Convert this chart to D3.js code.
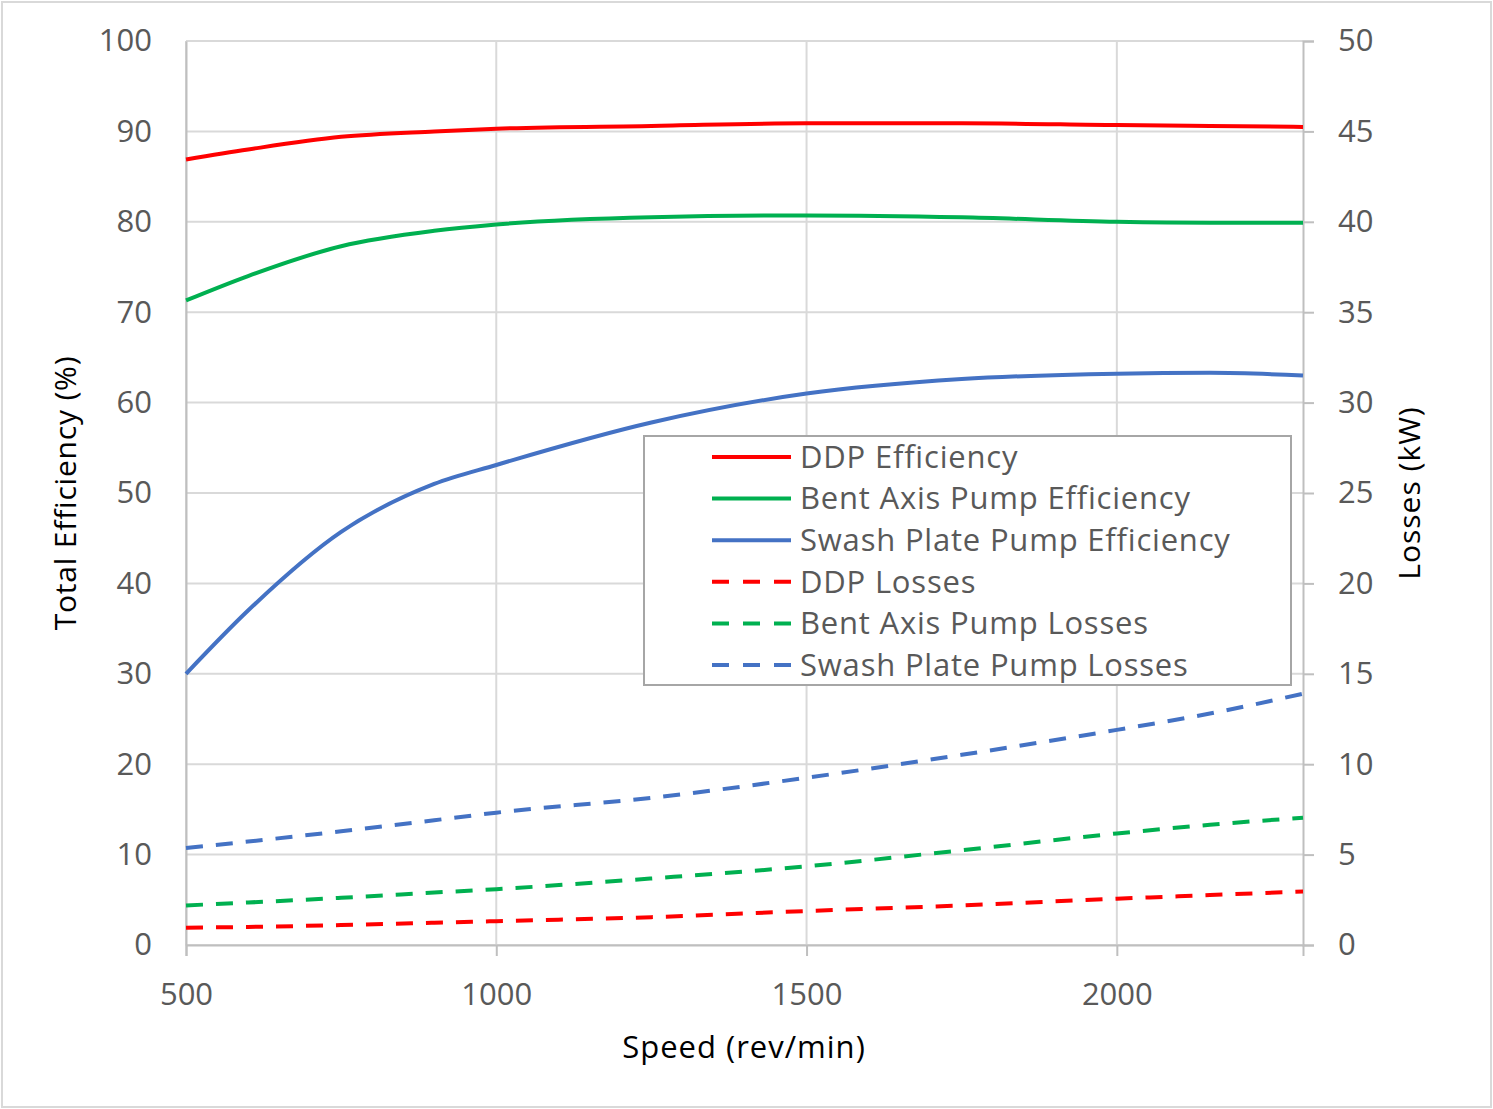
<!DOCTYPE html>
<html lang="en">
<head>
    <meta charset="UTF-8">
    <title>Pump Efficiency and Losses</title>
    <script src="https://d3js.org/d3.v7.min.js"></script>
    <style>
        body { margin: 0; background: #fff; }
        text { font-family: "Open Sans", "Noto Sans", sans-serif; }
        .tick text { fill: #595959; font-size: 31px; }
        .grid line { stroke: #d9d9d9; stroke-width: 2; }
        .series { fill: none; stroke-width: 4; }
    </style>
</head>
<body>
    <div id="chart"></div>
    <script>
        // speed points (rev/min)
        const speeds = [500, 600, 750, 900, 1000, 1250, 1500, 1750, 2000, 2150, 2300];

        // total efficiency (%)
        const ddpEff =   [86.9, 88.0, 89.4, 90.0, 90.3, 90.6, 90.9, 90.9, 90.7, 90.6, 90.5];
        const bentEff =  [71.3, 74.0, 77.3, 79.0, 79.7, 80.5, 80.7, 80.5, 80.0, 79.9, 79.9];
        const swashEff = [30.0, 37.0, 45.7, 51.0, 53.1, 57.8, 61.0, 62.6, 63.2, 63.3, 63.0];

        // losses (kW)
        const ddpLoss =   [0.96, 1.00, 1.10, 1.23, 1.32, 1.54, 1.88, 2.19, 2.56, 2.76, 2.96];
        const bentLoss =  [2.19, 2.35, 2.61, 2.90, 3.09, 3.68, 4.35, 5.24, 6.17, 6.65, 7.04];
        const swashLoss = [5.37, 5.72, 6.29, 6.90, 7.32, 8.14, 9.25, 10.52, 11.90, 12.80, 13.90];

        const xTicks = [500, 1000, 1500, 2000];
        const effTicks = [0, 10, 20, 30, 40, 50, 60, 70, 80, 90, 100];
        const lossTicks = [0, 5, 10, 15, 20, 25, 30, 35, 40, 45, 50];

        const series = [
            { name: "DDP Efficiency", values: ddpEff, color: "#ff0000", dashed: false, axis: "left" },
            { name: "Bent Axis Pump Efficiency", values: bentEff, color: "#00b050", dashed: false, axis: "left" },
            { name: "Swash Plate Pump Efficiency", values: swashEff, color: "#4472c4", dashed: false, axis: "left" },
            { name: "DDP Losses", values: ddpLoss, color: "#ff0000", dashed: true, axis: "right" },
            { name: "Bent Axis Pump Losses", values: bentLoss, color: "#00b050", dashed: true, axis: "right" },
            { name: "Swash Plate Pump Losses", values: swashLoss, color: "#4472c4", dashed: true, axis: "right" }
        ];

        const width = 1493;
        const height = 1109;
        const margin = { top: 41, right: 190, bottom: 164, left: 186 };

        const x = d3.scaleLinear()
            .domain([500, 2300])
            .range([margin.left, width - margin.right]);

        const yLeft = d3.scaleLinear()
            .domain([0, 100])
            .range([height - margin.bottom, margin.top]);

        const yRight = d3.scaleLinear()
            .domain([0, 50])
            .range([height - margin.bottom, margin.top]);

        const svg = d3.select("#chart")
            .append("svg")
            .attr("width", width)
            .attr("height", height);

        // outer frame
        svg.append("rect")
            .attr("x", 2)
            .attr("y", 2)
            .attr("width", width - 4)
            .attr("height", height - 4)
            .attr("fill", "#fff")
            .attr("stroke", "#d9d9d9")
            .attr("stroke-width", 2);

        // gridlines
        const grid = svg.append("g").attr("class", "grid");
        grid.selectAll(".h")
            .data(effTicks)
            .join("line")
            .attr("x1", x(500))
            .attr("x2", x(2300))
            .attr("y1", d => yLeft(d))
            .attr("y2", d => yLeft(d));
        grid.selectAll(".v")
            .data(xTicks)
            .join("line")
            .attr("x1", d => x(d))
            .attr("x2", d => x(d))
            .attr("y1", yLeft(0))
            .attr("y2", yLeft(100));

        // axes
        const xAxis = svg.append("g")
            .attr("transform", `translate(0,${yLeft(0)})`)
            .call(d3.axisBottom(x).tickValues(xTicks).tickFormat(d3.format("d")).tickSize(11).tickPadding(27));

        const leftAxis = svg.append("g")
            .attr("transform", `translate(${x(500)},0)`)
            .call(d3.axisLeft(yLeft).tickValues(effTicks).tickSize(0).tickPadding(34));

        const rightAxis = svg.append("g")
            .attr("transform", `translate(${x(2300)},0)`)
            .call(d3.axisRight(yRight).tickValues(lossTicks).tickSize(11).tickPadding(24));

        [xAxis, leftAxis, rightAxis].forEach(g => {
            g.selectAll(".domain").attr("stroke", "#bfbfbf").attr("stroke-width", 2);
            g.selectAll(".tick line").attr("stroke", "#bfbfbf").attr("stroke-width", 2);
            g.selectAll("text").attr("font-family", null);
        });
        xAxis.selectAll(".tick text").attr("dy", "0.72em");

        // lines
        const lineLeft = d3.line()
            .x((d, i) => x(speeds[i]))
            .y(d => yLeft(d))
            .curve(d3.curveMonotoneX);

        const lineRight = d3.line()
            .x((d, i) => x(speeds[i]))
            .y(d => yRight(d))
            .curve(d3.curveMonotoneX);

        svg.selectAll(".series")
            .data(series)
            .join("path")
            .attr("class", "series")
            .attr("stroke", d => d.color)
            .attr("stroke-dasharray", d => d.dashed ? "17,13" : null)
            .attr("d", d => d.axis === "left" ? lineLeft(d.values) : lineRight(d.values));

        // axis titles
        svg.append("text")
            .attr("x", 744)
            .attr("y", 1058)
            .attr("text-anchor", "middle")
            .attr("font-size", 31)
            .attr("letter-spacing", 1)
            .attr("fill", "#000")
            .text("Speed (rev/min)");

        svg.append("text")
            .attr("transform", "translate(76,493) rotate(-90)")
            .attr("text-anchor", "middle")
            .attr("font-size", 30)
            .attr("letter-spacing", 0.8)
            .attr("fill", "#000")
            .text("Total Efficiency (%)");

        svg.append("text")
            .attr("transform", "translate(1420,493) rotate(-90)")
            .attr("text-anchor", "middle")
            .attr("font-size", 30)
            .attr("letter-spacing", 1)
            .attr("fill", "#000")
            .text("Losses (kW)");

        // legend
        const legend = svg.append("g").attr("transform", "translate(644,436)");
        legend.append("rect")
            .attr("width", 647)
            .attr("height", 249)
            .attr("fill", "#fff")
            .attr("stroke", "#a6a6a6")
            .attr("stroke-width", 2);

        const item = legend.selectAll(".item")
            .data(series)
            .join("g")
            .attr("transform", (d, i) => `translate(0,${21 + i * 41.6})`);

        item.append("line")
            .attr("x1", 68)
            .attr("x2", 147)
            .attr("stroke", d => d.color)
            .attr("stroke-width", 4)
            .attr("stroke-dasharray", d => d.dashed ? "17,14" : null);

        item.append("text")
            .attr("x", 156)
            .attr("dy", "0.35em")
            .attr("font-size", 31)
            .attr("letter-spacing", 0.8)
            .attr("fill", "#595959")
            .text(d => d.name);
    </script>
</body>
</html>
